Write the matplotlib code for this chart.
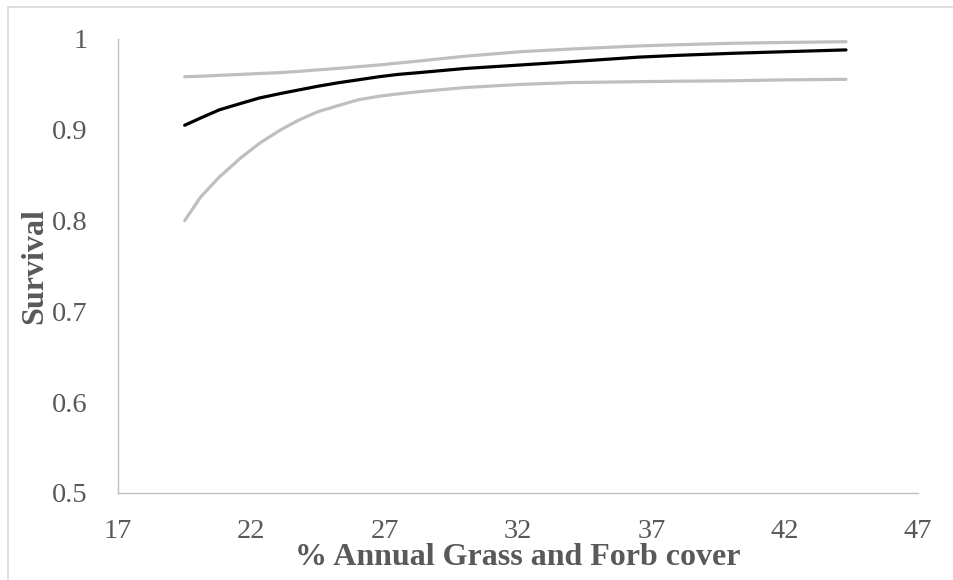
import numpy as np
import matplotlib
matplotlib.use("Agg")
import matplotlib.pyplot as plt
from matplotlib.patches import Rectangle

# values
cover = [19.5, 20.1, 20.8, 21.6, 22.3, 23.1, 23.8, 24.5, 25.3, 26.0, 26.8, 27.5, 28.3,
         30.0, 32.1, 34.0, 36.5, 38.0, 40.1, 42.0, 44.3]
survival = [0.905, 0.913, 0.922, 0.929, 0.935, 0.940, 0.944, 0.948, 0.952, 0.955, 0.9585,
            0.961, 0.963, 0.9675, 0.9714, 0.975, 0.980, 0.982, 0.9843, 0.986, 0.988]
upper = [0.9585, 0.959, 0.960, 0.961, 0.962, 0.963, 0.9644, 0.966, 0.9677, 0.9695, 0.9714,
         0.9735, 0.9758, 0.981, 0.986, 0.989, 0.9923, 0.9937, 0.9953, 0.9962, 0.997]
lower = [0.800, 0.826, 0.848, 0.869, 0.885, 0.900, 0.911, 0.920, 0.927, 0.933, 0.937,
         0.9395, 0.9420, 0.9465, 0.950, 0.952, 0.953, 0.9535, 0.954, 0.955, 0.9556]

xticks = [17, 22, 27, 32, 37, 42, 47]
yticks = [0.5, 0.6, 0.7, 0.8, 0.9, 1.0]
ytick_labels = ["0.5", "0.6", "0.7", "0.8", "0.9", "1"]

plt.rcParams['font.family'] = ['Liberation Serif', 'DejaVu Serif']

fig = plt.figure(figsize=(9.54, 5.8), dpi=100)
ax = fig.add_axes([118/954, 1 - 493/580, 800/954, 454/580])

grey = "#bfbfbf"
txt = "#595959"

ax.plot(cover, upper, color=grey, lw=2.3, solid_capstyle="round")
ax.plot(cover, lower, color=grey, lw=2.3, solid_capstyle="round")
ax.plot(cover, survival, color="black", lw=2.3, solid_capstyle="round")

ax.set_xlim(17, 47)
ax.set_ylim(0.5, 1.0)
ax.set_xticks(xticks)
ax.set_yticks(yticks)
ax.set_yticklabels(ytick_labels)

for s in ["top", "right"]:
    ax.spines[s].set_visible(False)
for s in ["left", "bottom"]:
    ax.spines[s].set_color(grey)
    ax.spines[s].set_linewidth(1.0)

ax.tick_params(axis="both", length=0, labelsize=20.5, colors=txt)
ax.tick_params(axis="x", pad=19)
ax.tick_params(axis="y", pad=22)

ax.set_xlabel("% Annual Grass and Forb cover", fontsize=23, fontweight="bold",
              color=txt, labelpad=-1)
ax.set_ylabel("Survival", fontsize=23, fontweight="bold", color=txt, labelpad=2)

# outer frame of the chart area (clipped at right and bottom)
fig.patches.append(Rectangle((8/954, -0.1), 1.2, 1 - 7/580 + 0.1,
                             transform=fig.transFigure, fill=False,
                             edgecolor="#d9d9d9", lw=1.2))

fig.savefig("out.png", dpi=100)
